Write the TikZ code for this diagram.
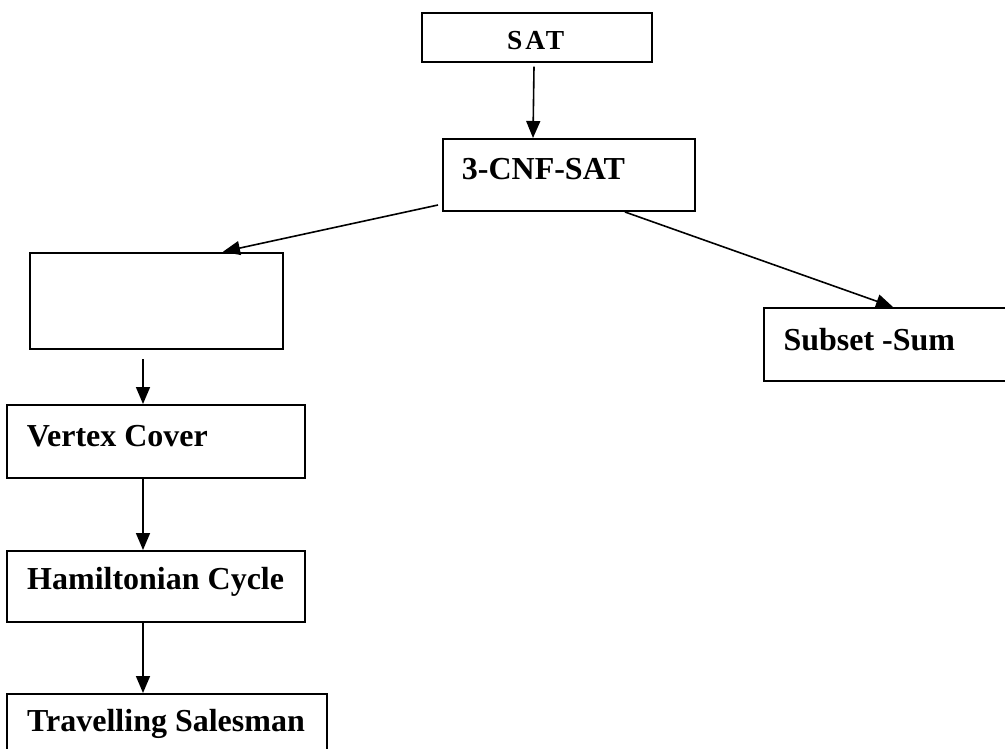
\documentclass[tikz,border=0pt]{standalone}
\usepackage{fontspec}
\setmainfont{Liberation Serif}
\usetikzlibrary{arrows.meta}
\tikzset{
  box/.style={draw=black, line width=2pt, rectangle, anchor=north west, inner sep=0pt},
  lbl/.style={anchor=base west, inner sep=0pt, font=\fontsize{32}{38}\selectfont\bfseries},
  arr/.style={line width=1.6pt, -{Triangle[width=14pt,length=17pt]}}
}
\begin{document}
\begin{tikzpicture}[x=1pt,y=-1pt]
\clip (0,0) rectangle (1005,749);
\fill[white] (0,0) rectangle (1005,749);
% boxes
\node[box, minimum width=230pt, minimum height=49pt] (sat) at (420.7,11.7) {};
\node[box, minimum width=252pt, minimum height=72pt] (cnf) at (441.7,138) {};
\node[box, minimum width=252.7pt, minimum height=96.3pt] (empty) at (29,251.7) {};
\node[box, minimum width=260pt, minimum height=73pt] (sub) at (762.5,307) {};
\node[box, minimum width=298pt, minimum height=72.7pt] (vc) at (6,404) {};
\node[box, minimum width=298pt, minimum height=71pt] (ham) at (6,550) {};
\node[box, minimum width=320pt, minimum height=80pt] (tsp) at (6,693) {};
% labels
\node[anchor=base, inner sep=0pt, font=\fontsize{27.5}{33}\selectfont\bfseries\addfontfeature{LetterSpace=10}] (satt) at (535.7,50) {SAT};
\node[lbl] (cnft) at (461.7,180) {3-CNF-SAT};
\node[lbl] (subt) at (783.3,350) {Subset -Sum};
\node[lbl] (vct) at (26.7,446) {Vertex Cover};
\node[lbl] (hamt) at (27,589) {Hamiltonian Cycle};
\node[lbl] (tspt) at (27,731) {Travelling Salesman};
% connectors
\draw[arr] ([xshift=-2.7pt,yshift=-4pt]sat.south) -- ([xshift=91.3pt]cnf.north west);
\draw[arr] ([xshift=-3.7pt,yshift=7pt]cnf.south west) -- ([xshift=194pt]empty.north west);
\draw[arr] ([xshift=183.3pt]cnf.south west) -- ([xshift=130.5pt]sub.north west);
\draw[arr] ([xshift=114pt,yshift=-9pt]empty.south west) -- ([xshift=137pt]vc.north west);
\draw[arr] ([xshift=137pt]vc.south west) -- ([xshift=137pt]ham.north west);
\draw[arr] ([xshift=137pt]ham.south west) -- ([xshift=137pt]tsp.north west);
\end{tikzpicture}
\end{document}
